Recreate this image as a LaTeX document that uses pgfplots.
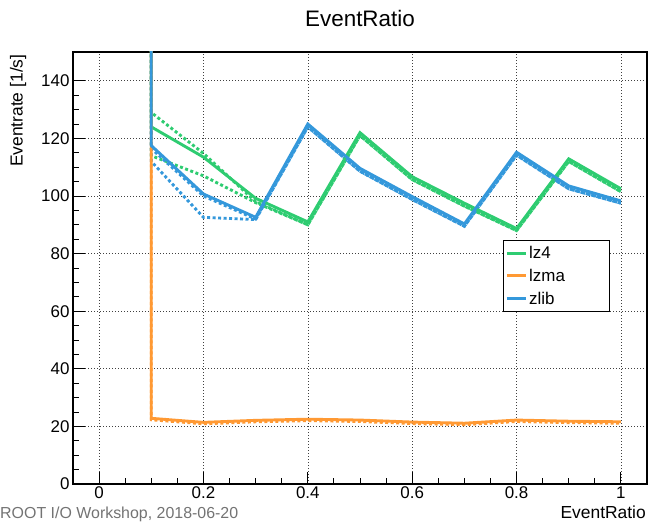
\documentclass[border=0pt]{standalone}
\usepackage{fontspec}
\setmainfont{Liberation Sans}
\usepackage{pgfplots}
\pgfplotsset{compat=1.18}
\definecolor{cgreen}{RGB}{46,204,113}
\definecolor{corange}{RGB}{255,153,51}
\definecolor{cblue}{RGB}{52,152,219}
\tikzset{sol/.style={line width=2.9bp}, dot/.style={line width=2.9bp, dash pattern=on 3bp off 2.5bp}}
\begin{document}
\begin{tikzpicture}
\path[use as bounding box] (0,0) rectangle (648bp,523bp);
\begin{axis}[
  at={(73bp,39bp)}, anchor=south west, scale only axis,
  width=574bp, height=432bp,
  xmin=-0.05, xmax=1.05, ymin=0, ymax=150,
  xtick={0,0.2,0.4,0.6,0.8,1}, ytick={0,20,40,60,80,100,120,140},
  minor x tick num=3, minor y tick num=3,
  tick pos=left, tick align=inside,
  major tick length=12bp, minor tick length=6bp,
  grid=major,
  major grid style={black!75, line width=0.6bp, dash pattern=on 1bp off 2bp},
  axis line style={line width=1.2bp},
  tick style={black, line width=0.9bp},
  ticklabel style={font=\fontsize{17}{20}\selectfont},
  /pgf/number format/assume math mode=true,
  xticklabel style={yshift=1bp},
  legend style={at={(0.749,0.565)}, anchor=north west, draw=black, line width=0.8bp,
    fill=white, font=\fontsize{17}{20}\selectfont, inner xsep=2bp, inner ysep=4bp,
    row sep=5bp},
  legend cell align=left,
  legend image code/.code={\draw[line width=2.9bp, solid] (0bp,0bp) -- (19bp,0bp);},
]
% dotted variants
\addplot[cgreen, dot, forget plot] coordinates {(0.1,300)(0.1,129)(0.2,114.8)(0.3,98)(0.4,90)(0.5,121)(0.6,105.7)(0.7,96.5)(0.8,88)(0.9,112)(1.0,101.5)};
\addplot[cgreen, dot, forget plot] coordinates {(0.1,300)(0.1,114)(0.2,107)(0.3,97.7)(0.4,90)(0.5,121)(0.6,105.7)(0.7,96.5)(0.8,88)(0.9,112)(1.0,101.5)};
\addplot[corange, dot, forget plot] coordinates {(0.1,300)(0.1,22.3)(0.2,20.9)(0.3,21.6)(0.4,22)(0.5,21.7)(0.6,21)(0.7,20.6)(0.8,21.7)(0.9,21.3)(1.0,21.1)};
\addplot[cblue, dot, forget plot] coordinates {(0.1,300)(0.1,116.5)(0.2,100)(0.3,92)(0.4,124)(0.5,108.6)(0.6,98.8)(0.7,89.5)(0.8,114.2)(0.9,102.5)(1.0,97.5)};
\addplot[cblue, dot, forget plot] coordinates {(0.1,300)(0.1,112)(0.2,92.6)(0.3,91.8)(0.4,124)(0.5,108.6)(0.6,98.8)(0.7,89.5)(0.8,114.2)(0.9,102.5)(1.0,97.5)};
% solid
\addplot[cgreen, sol] coordinates {(0.1,300)(0.1,124)(0.2,113.5)(0.3,99.2)(0.4,91)(0.5,122)(0.6,106.7)(0.7,97.5)(0.8,88.7)(0.9,112.9)(1.0,102.5)};
\addlegendentry{\makebox[76bp][l]{lz4}}
\addplot[corange, sol] coordinates {(0.1,300)(0.1,22.8)(0.2,21.4)(0.3,22.1)(0.4,22.5)(0.5,22.2)(0.6,21.5)(0.7,21.1)(0.8,22.2)(0.9,21.8)(1.0,21.6)};
\addlegendentry{\makebox[76bp][l]{lzma}}
\addplot[cblue, sol] coordinates {(0.1,300)(0.1,117.5)(0.2,100.7)(0.3,92.6)(0.4,125)(0.5,109.6)(0.6,99.8)(0.7,90.3)(0.8,115.2)(0.9,103.5)(1.0,98.3)};
\addlegendentry{\makebox[76bp][l]{zlib}}
\end{axis}
\node[anchor=base, font=\fontsize{22.5}{26}\selectfont] at (360bp,496bp) {EventRatio};
\node[anchor=east, rotate=90, font=\fontsize{17.5}{20}\selectfont] at (18bp,472bp) {Eventrate [1/s]};
\node[anchor=base east, font=\fontsize{17.5}{20}\selectfont, inner sep=0pt] at (646bp,4.5bp) {EventRatio};
\node[anchor=base west, text=black!55, font=\fontsize{16}{19}\selectfont, inner sep=0pt] at (0bp,4.5bp) {ROOT I/O Workshop, 2018-06-20};
\end{tikzpicture}
\end{document}
